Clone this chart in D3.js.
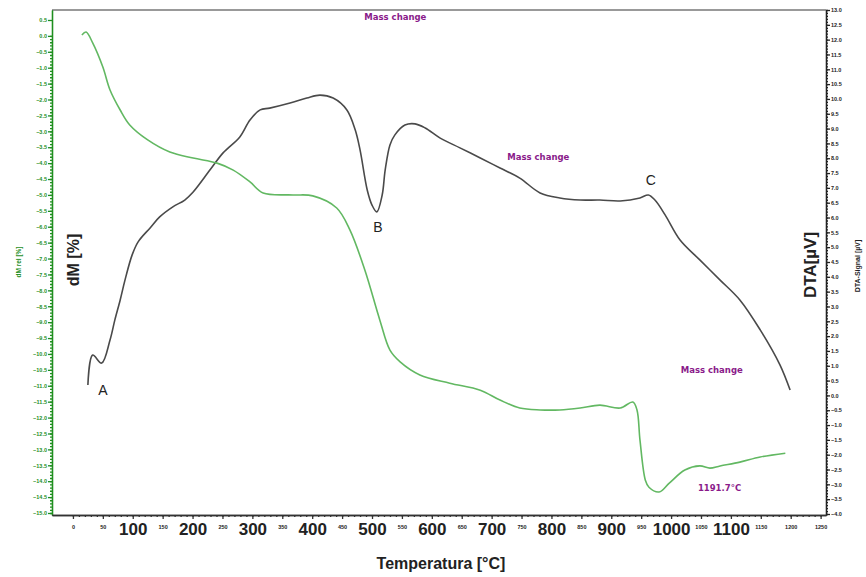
<!DOCTYPE html>
<html>
<head>
<meta charset="UTF-8">
<script src="https://d3js.org/d3.v7.min.js"></script>
<style>
  body{margin:0;background:#fff;}
  text{font-family:"Liberation Sans",Arial,sans-serif;}
</style>
</head>
<body>
<div id="chart"></div>
<script>
// mass curve (left axis, dM %)
var massT = [15,22,33,50,62,79,95,125,162,201,241,268,296,318,368,401,441,463,488,513,530,547,580,630,681,714,747,781,814,848,881,915,936,943,948,957,963,980,997,1023,1048,1065,1082,1115,1149,1191];
var massV = [0.03,0.12,-0.22,-0.98,-1.70,-2.33,-2.80,-3.27,-3.65,-3.84,-4.0,-4.22,-4.59,-4.94,-5.0,-5.03,-5.41,-6.10,-7.36,-8.93,-9.88,-10.25,-10.66,-10.92,-11.14,-11.45,-11.70,-11.76,-11.76,-11.70,-11.61,-11.70,-11.51,-11.76,-12.71,-13.97,-14.19,-14.34,-14.06,-13.65,-13.52,-13.59,-13.52,-13.40,-13.24,-13.12];
// DTA curve (right axis, µV)
var dtaT = [25,33,48,62,70,79,87,99,109,129,145,167,187,201,229,251,279,296,313,329,363,391,413,435,458,472,480,492,500,508,517,522,530,538,555,572,589,614,647,681,714,747,781,814,848,881,915,948,962,973,990,1015,1048,1082,1115,1149,1182,1199];
var dtaV = [0.35,1.36,1.09,1.87,2.54,3.22,3.89,4.74,5.18,5.65,6.02,6.36,6.59,6.86,7.60,8.18,8.72,9.29,9.63,9.69,9.86,10.03,10.13,10.03,9.63,8.95,8.28,6.93,6.42,6.19,6.76,7.60,8.45,8.78,9.12,9.16,9.02,8.68,8.35,8.01,7.67,7.33,6.83,6.66,6.59,6.59,6.56,6.66,6.76,6.59,6.09,5.24,4.57,3.89,3.22,2.21,1.03,0.18];

var notes = [
  {t:"Mass change", T:539, v:0.5, side:"L"},
  {t:"Mass change", T:778, v:-3.9, side:"L"},
  {t:"Mass change", T:1068, v:-10.6, side:"L"},
  {t:"1191.7°C", T:1081, v:-14.3, side:"L"}
];
var peaks = [{t:"A", T:50, v:0.0},{t:"B", T:510, v:5.5},{t:"C", T:966, v:7.1}];

var W = 866, H = 577;
var svg = d3.select("#chart").append("svg").attr("width", W).attr("height", H);

var x = d3.scaleLinear().domain([-35, 1259]).range([52, 826]);
var yL = d3.scaleLinear().domain([0.814, -15.063]).range([10, 515]);
var yR = d3.scaleLinear().domain([13, -4.034]).range([10, 515]);

var green = "#1f8f1f";

// top border
svg.append("line").attr("x1", 52).attr("x2", 826).attr("y1", 10).attr("y2", 10)
  .attr("stroke", "#999").attr("stroke-width", 2);

// left axis
var fmt = d3.format(".1f");
var gl = svg.append("g").attr("transform", "translate(52,0)");
gl.call(d3.axisLeft(yL).tickValues(d3.range(-150, 1).map(function(d){return d/10;})).tickSize(2).tickFormat("").tickSizeOuter(0));
gl.call(function(g){
  g.append("g").call(d3.axisLeft(yL).tickValues(d3.range(-30, 2).map(function(d){return d/2;})).tickSize(4).tickFormat(fmt).tickSizeOuter(0));
});
gl.selectAll("path,line").attr("stroke", green).attr("stroke-width", 1.3);
gl.selectAll("text").attr("fill", green).attr("font-size", 5.5).attr("font-weight", "bold").attr("x", -5);

// right axis
var gr = svg.append("g").attr("transform", "translate(826,0)");
gr.call(d3.axisRight(yR).tickValues(d3.range(-40, 131).map(function(d){return d/10;})).tickSize(2).tickFormat("").tickSizeOuter(0));
gr.append("g").call(d3.axisRight(yR).tickValues(d3.range(-8, 27).map(function(d){return d/2;})).tickSize(4).tickFormat(fmt).tickSizeOuter(0));
gr.selectAll("path,line").attr("stroke", "#222").attr("stroke-width", 1.3);
gr.selectAll("text").attr("fill", "#222").attr("font-size", 5.5).attr("font-weight", "bold").attr("x", 5);

// bottom axis
var gb = svg.append("g").attr("transform", "translate(0,515)");
gb.call(d3.axisBottom(x).tickValues(d3.range(0, 1251, 10)).tickSize(2).tickFormat("").tickSizeOuter(0));
gb.append("g").call(d3.axisBottom(x).tickValues(d3.range(0, 1251, 50)).tickSize(4).tickSizeOuter(0)
  .tickFormat(function(d){return d;}));
gb.selectAll("path,line").attr("stroke", "#333").attr("stroke-width", 1.3);
gb.selectAll("text").attr("fill", "#222").attr("font-weight", "bold")
  .attr("font-size", function(d){return (d % 100 === 0 && d > 0 && d < 1200) ? 17 : 5.5;})
  .attr("y", function(d){return (d % 100 === 0 && d > 0 && d < 1200) ? 8 : 10;});

// curves
var mass = massT.map(function(t, i){return [t, massV[i]];});
var dta = dtaT.map(function(t, i){return [t, dtaV[i]];});
svg.append("path").datum(dta)
  .attr("d", d3.line().x(function(d){return x(d[0]);}).y(function(d){return yR(d[1]);}).curve(d3.curveCatmullRom))
  .attr("fill", "none").attr("stroke", "#4a4a4a").attr("stroke-width", 1.6);
svg.append("path").datum(mass)
  .attr("d", d3.line().x(function(d){return x(d[0]);}).y(function(d){return yL(d[1]);}).curve(d3.curveCatmullRom))
  .attr("fill", "none").attr("stroke", "#62b862").attr("stroke-width", 1.6);

// notes
svg.selectAll(".note").data(notes).enter().append("text")
  .attr("x", function(d){return x(d.T);}).attr("y", function(d){return yL(d.v);})
  .attr("text-anchor", "middle").attr("fill", "#8a1a8a").attr("font-weight", "bold")
  .style("font-family", "'DejaVu Sans',Verdana,sans-serif").attr("font-size", 8.5)
  .text(function(d){return d.t;});
svg.selectAll(".peak").data(peaks).enter().append("text")
  .attr("x", function(d){return x(d.T);}).attr("y", function(d){return yR(d.v);})
  .attr("text-anchor", "middle").attr("fill", "#222").attr("font-size", 14)
  .text(function(d){return d.t;});

// axis titles
svg.append("text").attr("transform", "translate(441,569)").attr("text-anchor", "middle")
  .attr("font-size", 16).attr("font-weight", "bold").attr("fill", "#222").text("Temperatura [°C]");
svg.append("text").attr("transform", "translate(79,260) rotate(-90)").attr("text-anchor", "middle")
  .attr("font-size", 16).attr("font-weight", "bold").attr("fill", "#222").text("dM [%]");
svg.append("text").attr("transform", "translate(21,262) rotate(-90)").attr("text-anchor", "middle")
  .attr("font-size", 6.5).attr("font-weight", "bold").attr("fill", green).text("dM rel [%]");
svg.append("text").attr("transform", "translate(816,265) rotate(-90)").attr("text-anchor", "middle")
  .attr("font-size", 17).attr("font-weight", "bold").attr("fill", "#222").text("DTA[µV]");
svg.append("text").attr("transform", "translate(860,266) rotate(-90)").attr("text-anchor", "middle")
  .attr("font-size", 7).attr("font-weight", "bold").attr("fill", "#222").text("DTA-Signal [µV]");
</script>
</body>
</html>
